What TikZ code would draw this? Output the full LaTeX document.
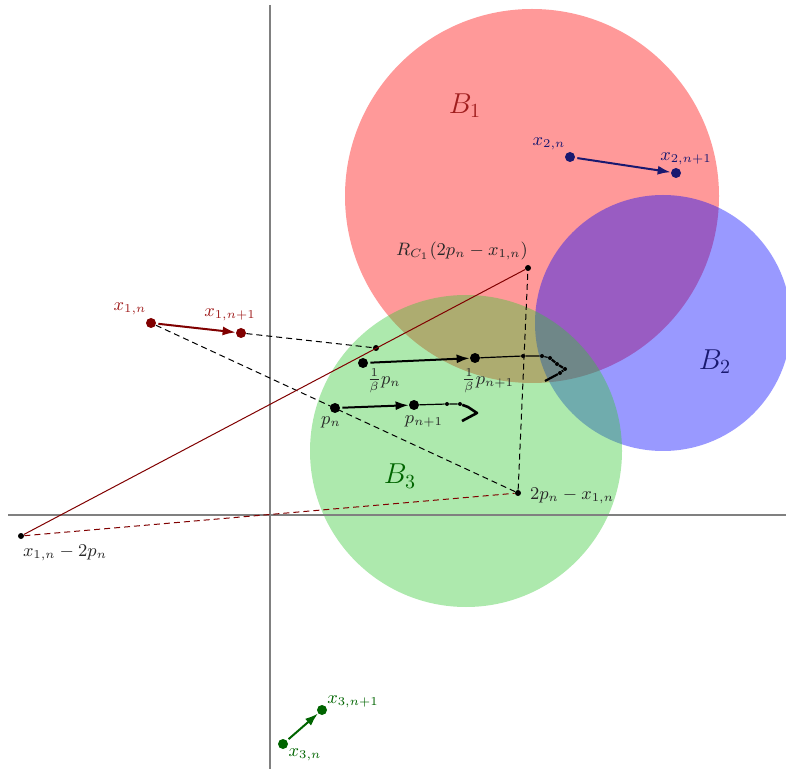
\documentclass[tikz,border=0pt]{standalone}
\usetikzlibrary{arrows.meta}
\definecolor{dred}{RGB}{128,0,0}
\definecolor{lred}{RGB}{160,30,30}
\definecolor{dblue}{RGB}{25,25,112}
\definecolor{dgreen}{RGB}{0,100,0}
\definecolor{gfill}{RGB}{50,200,50}
\definecolor{txt}{RGB}{40,40,40}
\begin{document}
\begin{tikzpicture}[x=0.5pt,y=-0.5pt,
  bigdot/.style={circle,fill,inner sep=0pt,minimum size=5pt},
  smalldot/.style={circle,fill,inner sep=0pt,minimum size=3pt},
  tinydot/.style={circle,fill,inner sep=0pt,minimum size=2pt},
  lbl/.style={inner sep=0pt,text=txt,font=\small},
  axis/.style={draw=gray,line width=1pt},
  arr/.style={line width=1pt,-{Latex[length=6.5pt,width=4.5pt]},shorten <=1pt,shorten >=0pt},
  dsh/.style={dashed,line width=0.5pt,dash pattern=on 3pt off 2pt}]
\useasboundingbox (0,0) rectangle (786,769);
% circles
\fill[red,opacity=0.4] (532,196) circle[radius=187];
\fill[blue,opacity=0.4] (663,323) circle[radius=128];
\fill[gfill,opacity=0.4] (466,451) circle[radius=156];
% axes
\coordinate (ytop) at (270,5); \coordinate (ybot) at (270,769);
\coordinate (xl) at (8,515); \coordinate (xr) at (786,515);
\draw[axis] (ytop) -- (ybot);
\draw[axis] (xl) -- (xr);
% circle labels
\node[text=lred,font=\Large] (b1) at (465,106) {$B_1$};
\node[text=dblue,font=\Large] (b2) at (715,362) {$B_2$};
\node[text=dgreen,font=\Large] (b3) at (400,476) {$B_3$};
% points
\node[bigdot,dred] (x1n) at (151,323) {};
\node[bigdot,dred] (x1n1) at (241,333) {};
\node[bigdot,dblue] (x2n) at (570,157) {};
\node[bigdot,dblue] (x2n1) at (676,173) {};
\node[bigdot,dgreen] (x3n) at (283,744) {};
\node[bigdot,dgreen] (x3n1) at (322,710) {};
\node[smalldot] (refl) at (518,493) {};
\node[smalldot] (neg) at (21,536) {};
\node[smalldot] (R) at (528,268) {};
\node[smalldot] (q) at (376,348) {};
\node[bigdot] (bpn) at (363,363) {};
\node[bigdot] (bpn1) at (475,358) {};
\node[bigdot] (pn) at (335,408) {};
\node[bigdot] (pn1) at (414,405) {};
% construction lines
\draw[dsh] (x1n) -- (refl);
\draw[dsh] (x1n1) -- (q);
\draw[dsh] (refl) -- (R);
\draw[dred,line width=0.5pt] (neg) -- (R);
\draw[dred,dsh] (neg) -- (refl);
% iteration arrows
\draw[arr,dred] (x1n) -- (x1n1);
\draw[arr,dblue] (x2n) -- (x2n1);
\draw[arr,dgreen] (x3n) -- (x3n1);
\draw[arr] (bpn) -- (bpn1);
\draw[arr] (pn) -- (pn1);
% trails
\node[tinydot] (t1) at (447,404) {};
\node[tinydot] (t2) at (460,404) {};
\coordinate (t3) at (468,407);
\coordinate (t4) at (477,413);
\coordinate (t5) at (462,421);
\draw[line width=0.6pt] (pn1) -- (t1) -- (t2);
\draw[line width=1.3pt,line join=round] (t2) -- (t3) -- (t4) -- (t5);
\node[tinydot] (s1) at (523,356) {};
\node[tinydot] (s2) at (542,356) {};
\node[tinydot] (s3) at (550,358) {};
\node[tinydot] (s4) at (557,364) {};
\node[tinydot] (s5) at (565,369) {};
\node[tinydot] (s6) at (560,373) {};
\coordinate (s7) at (545,381);
\draw[line width=0.6pt] (bpn1) -- (s1) -- (s2) -- (s3);
\draw[line width=1.1pt,line join=round] (s3) -- (s4) -- (s5) -- (s6) -- (s7);
% labels
\node[lbl,text=lred] (lx1n) at (130,309) {$x_{1,n}$};
\node[lbl,text=lred] (lx1n1) at (230,315) {$x_{1,n+1}$};
\node[lbl,text=dblue] (lx2n) at (549,144) {$x_{2,n}$};
\node[lbl,text=dblue] (lx2n1) at (686,159) {$x_{2,n+1}$};
\node[lbl,text=dgreen] (lx3n) at (305,755) {$x_{3,n}$};
\node[lbl,text=dgreen] (lx3n1) at (353,702) {$x_{3,n+1}$};
\node[lbl] (lR) at (462,251) {$R_{C_1}(2p_n-x_{1,n})$};
\node[lbl] (lrefl) at (572,496) {$2p_n-x_{1,n}$};
\node[lbl] (lneg) at (65,553) {$x_{1,n}-2p_n$};
\node[lbl] (lbpn) at (384,381) {$\frac{1}{\beta}p_n$};
\node[lbl] (lbpn1) at (488,381) {$\frac{1}{\beta}p_{n+1}$};
\node[lbl] (lpn) at (331,422) {$p_n$};
\node[lbl] (lpn1) at (424,421) {$p_{n+1}$};
\end{tikzpicture}
\end{document}
